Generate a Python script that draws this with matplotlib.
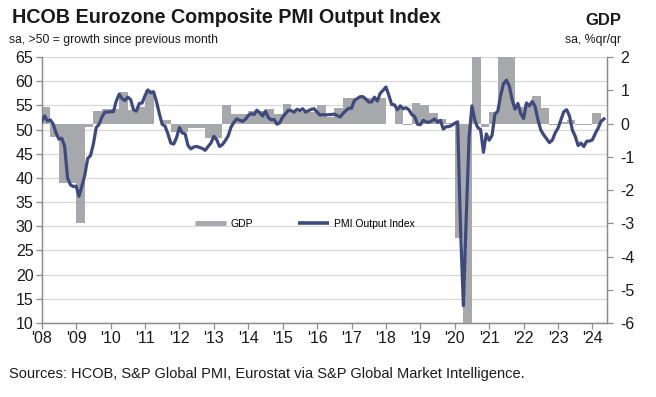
import matplotlib
matplotlib.use("Agg")
import matplotlib.pyplot as plt
from matplotlib.lines import Line2D
import numpy as np

plt.rcParams['font.family'] = ['Liberation Sans', 'DejaVu Sans']
plt.rcParams['axes.unicode_minus'] = False

# ---- data ----
year_labels = ["'08", "'09", "'10", "'11", "'12", "'13", "'14", "'15", "'16",
               "'17", "'18", "'19", "'20", "'21", "'22", "'23", "'24"]

# Monthly PMI Output Index, Jan 2008 - May 2024
pmi = [
    51.7, 52.8, 51.8, 52.0, 51.1, 49.3, 48.0, 48.2, 46.5, 40.0, 38.6, 38.2,
    38.3, 36.2, 38.3, 40.5, 44.0, 44.6, 47.0, 50.4, 51.1, 52.6, 53.6, 53.6,
    53.7, 53.7, 55.9, 57.3, 56.4, 56.0, 56.7, 56.2, 54.1, 53.8, 55.4, 55.5,
    57.0, 58.2, 57.6, 57.8, 55.8, 53.3, 51.1, 50.7, 49.1, 47.2, 47.0, 48.3,
    50.4, 49.3, 49.1, 46.7, 46.0, 46.4, 46.5, 46.3, 46.1, 45.7, 46.5, 47.2,
    48.6, 47.9, 46.5, 46.9, 47.7, 48.7, 50.5, 51.5, 52.2, 51.9, 51.7, 52.1,
    52.9, 53.3, 53.1, 54.0, 53.5, 52.8, 53.8, 52.5, 52.0, 52.1, 51.1, 51.4,
    52.6, 53.3, 54.0, 53.9, 53.6, 54.2, 53.9, 54.3, 53.6, 53.9, 54.2, 54.3,
    53.6, 53.0, 53.1, 53.0, 53.1, 53.1, 53.2, 52.9, 52.6, 53.3, 53.9, 54.4,
    54.4, 56.0, 56.4, 56.8, 56.8, 56.3, 55.7, 55.7, 56.7, 55.9, 57.5, 58.1,
    58.8, 57.1, 55.2, 55.1, 54.1, 54.9, 54.3, 54.5, 54.1, 53.1, 52.7, 51.1,
    51.0, 51.9, 51.6, 51.5, 51.8, 52.2, 51.5, 51.9, 50.1, 50.6, 50.6, 50.9,
    51.3, 51.6, 29.7, 13.6, 31.9, 48.5, 54.9, 51.9, 50.4, 50.0, 45.3, 49.1,
    47.8, 48.8, 53.2, 53.8, 57.1, 59.5, 60.2, 59.0, 56.2, 54.2, 55.4, 53.3,
    52.3, 55.5, 54.9, 55.8, 54.8, 52.0, 49.9, 48.9, 48.1, 47.3, 47.8, 49.3,
    50.3, 52.0, 53.7, 54.1, 52.8, 49.9, 48.6, 46.7, 47.2, 46.5, 47.6, 47.6,
    47.9, 49.2, 50.3, 51.7, 52.2,
]

# Quarterly GDP, % q/q, Q1 2008 - Q1 2024
gdp = [
    0.50, -0.40, -1.80, -1.80,
    -3.00, -0.10, 0.37, 0.44,
    0.43, 0.94, 0.40, 0.50,
    1.00, 0.00, 0.10, -0.25,
    -0.25, -0.15, -0.15, -0.45,
    -0.45, 0.56, 0.28, 0.28,
    0.38, 0.38, 0.44, 0.28,
    0.60, 0.36, 0.36, 0.36,
    0.56, 0.20, 0.46, 0.76,
    0.76, 0.76, 0.76, 0.76,
    0.00, 0.48, -0.05, 0.63,
    0.56, 0.31, 0.15, 0.02,
    -3.45, -11.20, 11.40, -0.10,
    0.34, 2.10, 2.20, 0.50,
    0.60, 0.84, 0.48, -0.05,
    0.05, 0.10, -0.05, -0.05,
    0.31,
]

pmi_ticks = list(range(10, 70, 5))
gdp_ticks = list(range(-6, 3))

# ---- styling ----
BAR_C = '#A6A8AB'
LINE_C = '#3F4A7C'
GRID_C = '#D9D9D9'
SPINE_C = '#8C8C8C'
TXT_C = '#1A1A1A'

months = np.arange(len(pmi))
quarters = np.arange(len(gdp)) * 3

fig = plt.figure(figsize=(6.56, 3.97), dpi=100)
ax1 = fig.add_axes([0.0636, 0.1864, 0.925 - 0.0636, 0.8564 - 0.1864])
ax2 = ax1.twinx()
ax3 = ax1.twinx()
ax1.set_zorder(0)
ax2.set_zorder(1)
ax3.set_zorder(2)

xmax = len(pmi)  # through end of last month

# grid on ax1
ax1.set_ylim(10, 65)
ax1.set_yticks(pmi_ticks)
ax1.set_xlim(0, xmax)
ax1.grid(axis='y', color=GRID_C, lw=0.9)
ax1.set_axisbelow(True)

# bars on ax2
ax2.bar(quarters, gdp, width=3, align='edge', color=BAR_C, linewidth=0)
ax2.set_ylim(-6, 2)
ax2.set_yticks(gdp_ticks)
ax2.set_xlim(0, xmax)

# line on ax3
ax3.plot(months, pmi, color=LINE_C, lw=2.3, solid_joinstyle='round')
ax3.set_ylim(10, 65)
ax3.set_xlim(0, xmax)
ax3.set_yticks([])
for s in ax3.spines.values():
    s.set_visible(False)

# axes decorations
for ax in (ax1, ax2):
    for s in ax.spines.values():
        s.set_color(SPINE_C)
        s.set_linewidth(0.9)
    ax.spines['top'].set_visible(False)

ax1.set_xticks(np.arange(0, xmax, 12))
ax1.set_xticklabels(year_labels)
ax1.tick_params(axis='x', length=4, width=0.9, color=SPINE_C, pad=1.5,
                labelsize=11.5, labelcolor=TXT_C)
ax1.tick_params(axis='y', length=4, width=0.9, color=SPINE_C, pad=2,
                labelsize=11.5, labelcolor=TXT_C)
ax2.tick_params(axis='y', length=4, width=0.9, color=SPINE_C, pad=6,
                labelsize=11.5, labelcolor=TXT_C)
ax3.tick_params(axis='x', bottom=False, labelbottom=False)
ax2.tick_params(axis='x', bottom=False, labelbottom=False)

# legend
handles = [Line2D([0], [0], color=BAR_C, lw=3.5, solid_capstyle='butt'),
           Line2D([0], [0], color=LINE_C, lw=2.6, solid_capstyle='butt')]
ax3.legend(handles, ['GDP', 'PMI Output Index'], ncol=2, frameon=False,
           loc='center left', bbox_to_anchor=(0.271, 0.372), borderpad=0,
           borderaxespad=0, handlelength=3.0, handletextpad=0.45,
           columnspacing=4.3, prop={'size': 7.5})

# titles and notes
fig.text(0.018, 0.955, 'HCOB Eurozone Composite PMI Output Index',
         fontsize=14.2, fontweight='bold', color=TXT_C, va='center', ha='left')
fig.text(0.013, 0.898, 'sa, >50 = growth since previous month',
         fontsize=8.7, color=TXT_C, va='center', ha='left')
fig.text(0.947, 0.948, 'GDP', fontsize=12, fontweight='bold', color=TXT_C,
         va='center', ha='right')
fig.text(0.947, 0.898, 'sa, %qr/qr', fontsize=8.8, color=TXT_C,
         va='center', ha='right')
fig.text(0.014, 0.058,
         'Sources: HCOB, S&P Global PMI, Eurostat via S&P Global Market Intelligence.',
         fontsize=10.5, color=TXT_C, va='center', ha='left')

fig.savefig('out.png', dpi=100)
